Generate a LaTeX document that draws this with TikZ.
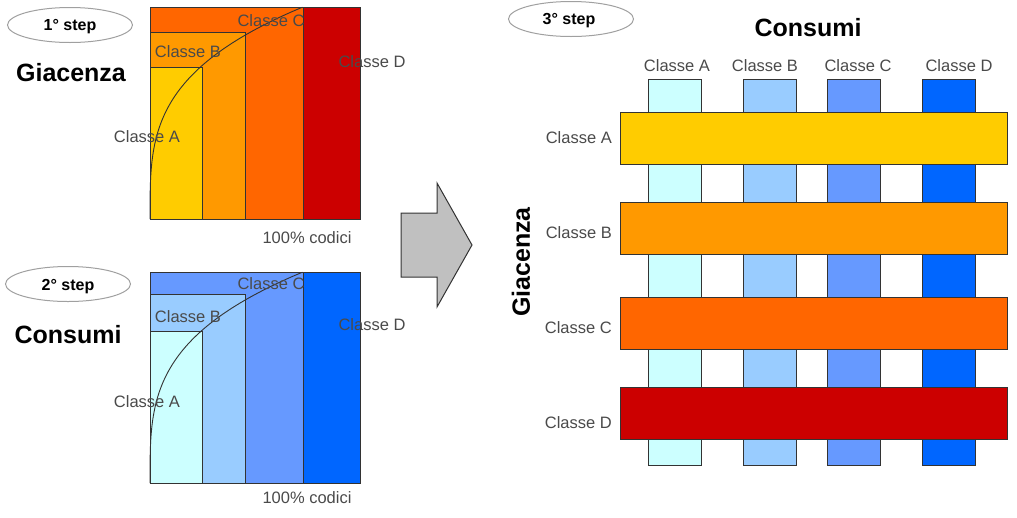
\documentclass[tikz,border=0pt]{standalone}
\usepackage{fontspec}
\setmainfont{Liberation Sans}
\usetikzlibrary{shapes.geometric}
\definecolor{cA}{HTML}{FFCC00}
\definecolor{cB}{HTML}{FF9900}
\definecolor{cC}{HTML}{FF6600}
\definecolor{cD}{HTML}{CC0000}
\definecolor{bA}{HTML}{CCFFFF}
\definecolor{bB}{HTML}{99CCFF}
\definecolor{bC}{HTML}{6699FF}
\definecolor{bD}{HTML}{0066FF}
\definecolor{edge}{HTML}{333333}
\definecolor{lblgray}{HTML}{4A4A4A}
\definecolor{ovalgray}{HTML}{A0A0A0}
\definecolor{arrowgray}{HTML}{C0C0C0}
\begin{document}
\begin{tikzpicture}[x=1pt,y=-1pt,
  lbl/.style={font=\fontsize{16.5}{18}\selectfont, text=lblgray, inner sep=0},
  ttl/.style={font=\fontsize{25}{28}\selectfont\bfseries, inner sep=0},
  stp/.style={font=\fontsize{16}{18}\selectfont\bfseries, inner sep=0},
  oval/.style={ellipse, draw=ovalgray, line width=1pt, fill=white, minimum width=125, minimum height=35, inner sep=0},
  region/.style={draw=edge, line width=1pt},
  curve/.style={draw=edge, line width=0.9pt},
  colbar/.style={draw=edge, line width=1pt, inner sep=0, minimum width=53, minimum height=386},
  rowbar/.style={draw=edge, line width=1pt, inner sep=0, minimum width=387, minimum height=52},
  blockarrow/.style={draw=edge, line width=1pt, fill=arrowgray}
]
\useasboundingbox (0,0) rectangle (1017,517);

% ---------- 1st step ----------
\node[oval] (oval1) at (70,25) {};
\node[stp] (step1) at (70,27) {1° step};
\node[ttl] (giac1) at (71,73) {Giacenza};
\fill[cC] (150,7) rectangle (303,219);
\fill[cD] (303,7) rectangle (360,219);
\fill[cB] (150,32) rectangle (245,219);
\fill[cA] (150,67) rectangle (202,219);
\draw[region] (150,7) rectangle (360,219);
\draw[region] (303,7) -- (303,219);
\draw[region] (150,32) -- (245,32) -- (245,219);
\draw[region] (150,67) -- (202,67) -- (202,219);
\draw[curve] (150,219) -- plot[domain=0.005:1, samples=90, variable=\s] ({150+153*(\s)^(10/3)}, {219-212*\s});
\node[lbl] (t1A) at (147,137) {Classe A};
\node[lbl] (t1B) at (188,52) {Classe B};
\node[lbl] (t1C) at (271,21) {Classe C};
\node[lbl] (t1D) at (372,62) {Classe D};
\node[lbl] (t1P) at (307,238) {100\% codici};

% ---------- 2nd step ----------
\node[oval] (oval2) at (68,284) {};
\node[stp] (step2) at (68,287) {2° step};
\node[ttl] (cons2) at (68,335) {Consumi};
\fill[bC] (150,272) rectangle (303,483);
\fill[bD] (303,272) rectangle (360,483);
\fill[bB] (150,294) rectangle (245,483);
\fill[bA] (150,331) rectangle (202,483);
\draw[region] (150,272) rectangle (360,483);
\draw[region] (303,272) -- (303,483);
\draw[region] (150,294) -- (245,294) -- (245,483);
\draw[region] (150,331) -- (202,331) -- (202,483);
\draw[curve] (150,483) -- plot[domain=0.005:1, samples=90, variable=\s] ({150+153*(\s)^(10/3)}, {483-211*\s});
\node[lbl] (t2A) at (147,402) {Classe A};
\node[lbl] (t2B) at (188,317) {Classe B};
\node[lbl] (t2C) at (271,284) {Classe C};
\node[lbl] (t2D) at (372,325) {Classe D};
\node[lbl] (t2P) at (307,498) {100\% codici};

% ---------- arrow ----------
\draw[blockarrow] (401,213) -- (437,213) -- (437,183) -- (472,245) -- (437,307) -- (437,277) -- (401,277) -- cycle;

% ---------- 3rd step ----------
\node[oval] (oval3) at (571,19) {};
\node[stp] (step3) at (569,21) {3° step};
\node[ttl] (cons3) at (808,28) {Consumi};
\node[ttl, rotate=90] (giac3) at (521,262) {Giacenza};

\node[colbar, fill=bA] (colA) at (674.5,272) {};
\node[colbar, fill=bB] (colB) at (769.5,272) {};
\node[colbar, fill=bC] (colC) at (853.5,272) {};
\node[colbar, fill=bD] (colD) at (948.5,272) {};

\node[lbl] (hA) at (677,66) {Classe A};
\node[lbl] (hB) at (765,66) {Classe B};
\node[lbl] (hC) at (858,66) {Classe C};
\node[lbl] (hD) at (959,66) {Classe D};

\node[rowbar, fill=cA] (rowA) at (813.5,138) {};
\node[rowbar, fill=cB] (rowB) at (813.5,228) {};
\node[rowbar, fill=cC] (rowC) at (813.5,323) {};
\node[rowbar, fill=cD] (rowD) at (813.5,413) {};

\node[lbl, anchor=east] (rA) at (612,138) {Classe A};
\node[lbl, anchor=east] (rB) at (612,233) {Classe B};
\node[lbl, anchor=east] (rC) at (612,328) {Classe C};
\node[lbl, anchor=east] (rD) at (612,423) {Classe D};
\end{tikzpicture}
\end{document}
